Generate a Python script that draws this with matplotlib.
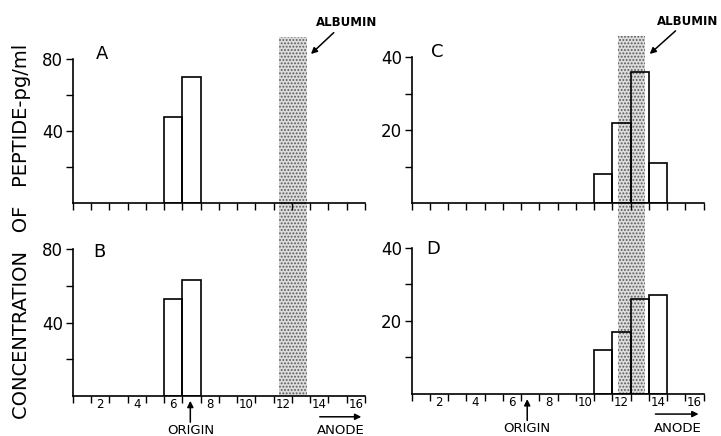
import numpy as np
import matplotlib.pyplot as plt
from matplotlib.ticker import FixedLocator

plt.rcParams['font.family'] = ['DejaVu Sans']
plt.rcParams['hatch.linewidth'] = 0.9

# fraction number -> peptide concentration (pg/ml)
a_fraction = [6, 7]
a_values = [48, 70]
b_fraction = [6, 7]
b_values = [53, 63]
c_fraction = [11, 12, 13, 14]
c_values = [8, 22, 36, 11]
d_fraction = [11, 12, 13, 14]
d_values = [12, 17, 26, 27]

x_labels = [2, 4, 6, 8, 10, 12, 14, 16]
albumin_band = (11.8, 13.3)

fig = plt.figure(figsize=(7.21, 4.36), dpi=100)

# bottom panels first so the albumin band runs up behind the top panels
panels = [
    ('B', b_fraction, b_values, 80, [0.1012, 0.0924, 0.405, 0.3358], True, (1.93, 78.7)),
    ('D', d_fraction, d_values, 40, [0.571, 0.0963, 0.405, 0.3356], True, (1.68, 39.7)),
    ('A', a_fraction, a_values, 80, [0.1012, 0.5344, 0.405, 0.3303], False, (2.1, 83)),
    ('C', c_fraction, c_values, 40, [0.571, 0.5337, 0.405, 0.3349], False, (1.92, 41.4)),
]

for name, frac, vals, ymax, pos, bottom, letter_xy in panels:
    ax = fig.add_axes(pos)
    ax.patch.set_visible(False)
    ax.bar(frac, vals, width=1.0, fill=False, edgecolor='black', linewidth=1.2, zorder=3)

    ax.set_xlim(0.5, 16.5)
    ax.set_ylim(0, ymax)
    for s in ['top', 'right']:
        ax.spines[s].set_visible(False)
    ax.spines['left'].set_linewidth(1.2)
    ax.spines['bottom'].set_linewidth(1.2)

    ax.xaxis.set_major_locator(FixedLocator(np.arange(0.5, 17, 1)))
    ax.tick_params(axis='x', which='major', direction='out', length=5, width=1,
                   labelbottom=False)
    ax.set_yticks([ymax / 2, ymax])
    ax.set_yticks([ymax / 4, 3 * ymax / 4], minor=True)
    ax.tick_params(axis='y', which='both', direction='out', length=5, width=1,
                   labelsize=12, pad=2)
    ax.set_yticklabels([str(int(ymax / 2)), str(int(ymax))])

    ax.text(letter_xy[0], letter_xy[1], name, fontsize=13, ha='center', va='center',
            clip_on=False)

    if bottom:
        ax.set_xticks(x_labels, labels=[str(v) for v in x_labels], minor=True)
        ax.tick_params(axis='x', which='minor', length=0, pad=1.5, labelsize=8.5)

        # albumin band drawn from the bottom panel up through the top one
        ax.axvspan(albumin_band[0], albumin_band[1], ymin=0, ymax=2.45,
                   facecolor='#dcdcdc', edgecolor='#5a5a5a', hatch='.....',
                   linewidth=0, clip_on=False, zorder=0)

        tr = ax.get_xaxis_transform()
        origin_x = 6.93 if name == 'B' else 6.83
        ax.annotate('', xy=(origin_x, -0.016), xytext=(origin_x, -0.2),
                    xycoords=tr, textcoords=tr,
                    arrowprops=dict(arrowstyle='-|>', lw=1.1, color='black',
                                    mutation_scale=9))
        ax.text(origin_x, -0.235, 'ORIGIN', transform=tr, fontsize=9.5,
                ha='center', va='center')

        anode = (13.87, 16.45, 15.17) if name == 'B' else (13.7, 16.37, 15.06)
        ay = -0.144 if name == 'B' else -0.137
        ax.annotate('', xy=(anode[1], ay), xytext=(anode[0], ay),
                    xycoords=tr, textcoords=tr,
                    arrowprops=dict(arrowstyle='-|>', lw=1.1, color='black',
                                    mutation_scale=9))
        ax.text(anode[2], -0.235, 'ANODE', transform=tr, fontsize=9.5,
                ha='center', va='center')
    else:
        # albumin label and pointer
        if name == 'A':
            tip, base, lab = (13.43, 81.7), (14.9, 95.7), (15.5, 100.3)
        else:
            tip, base, lab = (13.43, 40.4), (15.07, 47.75), (15.62, 49.7)
        ax.annotate('', xy=tip, xytext=base, annotation_clip=False,
                    arrowprops=dict(arrowstyle='-|>', lw=1.1, color='black',
                                    mutation_scale=9))
        ax.text(lab[0], lab[1], 'ALBUMIN', fontsize=8.5, fontweight='bold',
                ha='center', va='center', clip_on=False)

fig.text(0.0305, 0.469, 'CONCENTRATION   OF   PEPTIDE-pg/ml', rotation=90,
         fontsize=14, ha='center', va='center')

fig.savefig('out.png', dpi=100)
